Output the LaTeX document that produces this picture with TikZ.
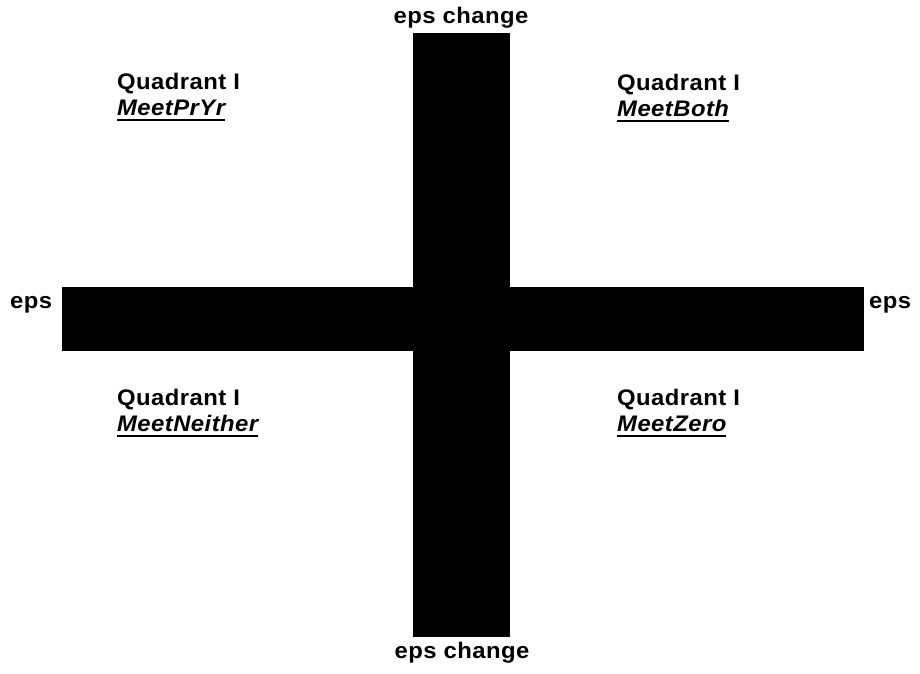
\documentclass[tikz,border=0pt]{standalone}
\usepackage{fontspec}
\setmainfont{Liberation Sans}
\newfontfamily\lblfont[FakeStretch=1.06,LetterSpace=2]{Liberation Sans}
\newcommand\myul[1]{\setbox0\hbox{#1}\rlap{\raisebox{-5.5pt}{\rule{\wd0}{2pt}}}\box0}
\begin{document}
\begin{tikzpicture}[x=1pt,y=-1pt,
  lbl/.style={inner sep=0pt,font=\lblfont\fontsize{22.5}{26}\selectfont\bfseries},
  quad/.style={lbl,anchor=base west,align=left}]
\useasboundingbox (0,0) rectangle (920,673);
\fill[black] (413,33) rectangle (510,637);
\fill[black] (62,287) rectangle (864,351);
\node[lbl,anchor=base] (top) at (461,23) {eps change};
\node[lbl,anchor=base] (bot) at (462,658) {eps change};
\node[lbl,anchor=base west] (left) at (10,308) {eps};
\node[lbl,anchor=base west] (right) at (869,308) {eps};
\node[quad] (q1a) at (117,89) {Quadrant I};
\node[quad] (q1b) at (117,115) {\myul{\itshape MeetPrYr}};
\node[quad] (q2a) at (617,90) {Quadrant I};
\node[quad] (q2b) at (617,116) {\myul{\itshape MeetBoth}};
\node[quad] (q3a) at (117,405) {Quadrant I};
\node[quad] (q3b) at (117,431) {\myul{\itshape MeetNeither}};
\node[quad] (q4a) at (617,405) {Quadrant I};
\node[quad] (q4b) at (617,431) {\myul{\itshape MeetZero}};
\end{tikzpicture}
\end{document}
